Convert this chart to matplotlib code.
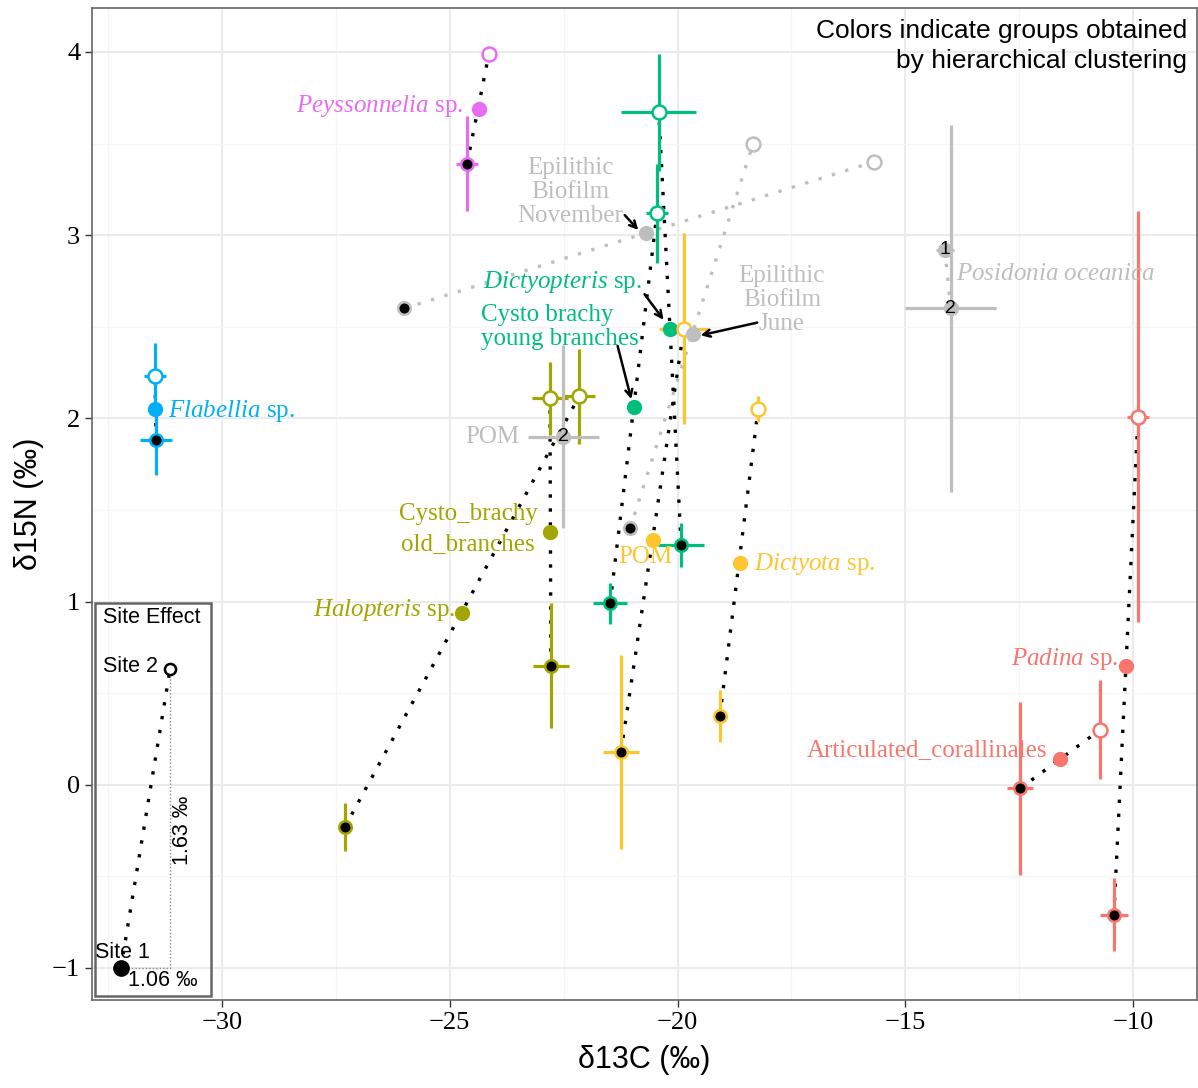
import numpy as np
import matplotlib
matplotlib.use("Agg")
import matplotlib.pyplot as plt
from matplotlib.patches import Rectangle

plt.rcParams['mathtext.fontset'] = 'custom'
plt.rcParams['mathtext.rm'] = 'Liberation Serif'
plt.rcParams['mathtext.it'] = 'Liberation Serif:italic'

# colours of the clusters
salmon = '#F8766D'
olive = '#A3A500'
green = '#00BF7D'
blue = '#00B0F6'
violet = '#E76BF3'
yellow = '#FDC52E'
grey = '#BEBEBE'

# species : site 1, site 2 and mean (d13C, d15N) with error bars
species = ['Peyssonnelia', 'Flabellia', 'Halopteris', 'Cysto_old', 'Dictyopteris',
           'Cysto_young', 'Dictyota', 'POM_y', 'Padina', 'Articulated',
           'Epi_Nov', 'Epi_June']
colors = [violet, blue, olive, olive, green, green, yellow, yellow, salmon, salmon, grey, grey]

s1_x = [-24.62, -31.45, -27.30, -22.78, -21.48, -19.92, -19.07, -21.24, -10.42, -12.48, -26.00, -21.04]
s1_y = [3.39, 1.88, -0.23, 0.65, 0.99, 1.31, 0.375, 0.18, -0.71, -0.02, 2.60, 1.40]
s1_xe = [0.25, 0.35, 0.0, 0.40, 0.37, 0.50, 0.0, 0.40, 0.30, 0.28, 0.0, 0.0]
s1_ye = [0.26, 0.19, 0.13, 0.34, 0.11, 0.12, 0.14, 0.53, 0.20, 0.47, 0.0, 0.0]

s2_x = [-24.14, -31.47, -22.16, -22.80, -20.45, -20.41, -18.23, -19.86, -9.89, -10.72, -15.69, -18.34]
s2_y = [3.99, 2.23, 2.12, 2.11, 3.12, 3.67, 2.05, 2.49, 2.01, 0.30, 3.40, 3.50]
s2_xe = [0.0, 0.25, 0.35, 0.40, 0.25, 0.82, 0.0, 0.54, 0.25, 0.0, 0.0, 0.0]
s2_ye = [0.0, 0.18, 0.26, 0.20, 0.27, 0.32, 0.07, 0.52, 1.12, 0.27, 0.0, 0.0]

m_x = [-24.36, -31.46, -24.73, -22.79, -20.95, -20.17, -18.63, -20.54, -10.15, -11.60, -20.69, -19.66]
m_y = [3.69, 2.05, 0.94, 1.38, 2.06, 2.49, 1.21, 1.335, 0.65, 0.14, 3.01, 2.46]

# numbered sites (Posidonia oceanica, POM grey)
num_x = [-14.13, -14.00, -22.51]
num_y = [2.92, 2.60, 1.90]
num_xe = [0.20, 1.00, 0.78]
num_ye = [0.0, 1.00, 0.50]
num_lab = ['1', '2', '2']

# labels
lab_text = [r'$\mathit{Peyssonnelia}$ sp.', r'$\mathit{Flabellia}$ sp.', 'Epilithic\nBiofilm\nNovember',
            r'$\mathit{Dictyopteris}$ sp.', 'Cysto brachy\nyoung branches', 'Epilithic\nBiofilm\nJune',
            r'$\mathit{Posidonia\ oceanica}$', 'POM', 'Cysto_brachy\nold_branches',
            r'$\mathit{Halopteris}$ sp.', 'POM', r'$\mathit{Dictyota}$ sp.', r'$\mathit{Padina}$ sp.',
            'Articulated_corallinales']
lab_x = [-24.71, -31.19, -22.36, -24.27, -24.31, -17.71, -13.89, -23.46, -24.60, -24.88, -21.31, -18.32, -10.33, -11.89]
lab_y = [3.705, 2.04, 3.236, 2.745, 2.50, 2.646, 2.79, 1.90, 1.396, 0.954, 1.243, 1.205, 0.687, 0.19]
lab_ha = ['right', 'left', 'center', 'left', 'left', 'center', 'left', 'right', 'center', 'right', 'left', 'left', 'right', 'right']
lab_col = [violet, blue, grey, green, green, grey, grey, grey, olive, olive, yellow, yellow, salmon, salmon]

# arrows (from text to point)
arr_x0 = [-21.20, -20.76, -21.33, -18.19]
arr_y0 = [3.121, 2.69, 2.41, 2.526]
arr_x1 = [-20.82, -20.27, -21.00, -19.55]
arr_y1 = [3.017, 2.526, 2.09, 2.45]

fig = plt.figure(figsize=(11.98, 10.88), dpi=100)
ax = fig.add_axes([92/1198, 88/1088, 1105/1198, 992/1088])

ax.set_xlim(-32.854, -8.595)
ax.set_ylim(-1.175, 4.240)
ax.set_xticks([-30, -25, -20, -15, -10])
ax.set_xticklabels(['\u221230', '\u221225', '\u221220', '\u221215', '\u221210'])
ax.set_yticks([-1, 0, 1, 2, 3, 4])
ax.set_yticklabels(['\u22121', '0', '1', '2', '3', '4'])
ax.set_xticks(np.arange(-32.5, -8, 5), minor=True)
ax.set_yticks(np.arange(-0.5, 4.2, 1), minor=True)
ax.grid(which='major', color='#EBEBEB', lw=1.5, zorder=0)
ax.grid(which='minor', color='#F5F5F5', lw=1.0, zorder=0)
ax.tick_params(which='minor', length=0)
ax.tick_params(which='major', length=5, width=1, color='#333333', labelsize=19, labelcolor='black')
for t in ax.get_xticklabels() + ax.get_yticklabels():
    t.set_family('Liberation Serif')
for s in ax.spines.values():
    s.set_color('#666666')
    s.set_linewidth(1.2)
ax.set_axisbelow(True)

ax.set_xlabel('\u03b413C (\u2030)', fontsize=22, family='Liberation Sans', labelpad=8)
ax.set_ylabel('\u03b415N (\u2030)', fontsize=22, family='Liberation Sans', labelpad=6)

# dotted links site1 -> site2
for i in range(len(species)):
    lc = grey if colors[i] == grey else 'black'
    ax.plot([s1_x[i], s2_x[i]], [s1_y[i], s2_y[i]], color=lc, lw=2.4, ls=(0, (1, 3.2)), zorder=2)
ax.plot(num_x[:2], num_y[:2], color=grey, lw=2.4, ls=(0, (1, 3.2)), zorder=2)

# error bars
for i in range(len(species)):
    c = colors[i]
    if s1_xe[i] > 0 or s1_ye[i] > 0:
        ax.errorbar(s1_x[i], s1_y[i], xerr=s1_xe[i] or None, yerr=s1_ye[i] or None,
                    fmt='none', ecolor=c, elinewidth=2.3, zorder=3)
    if s2_xe[i] > 0 or s2_ye[i] > 0:
        ax.errorbar(s2_x[i], s2_y[i], xerr=s2_xe[i] or None, yerr=s2_ye[i] or None,
                    fmt='none', ecolor=c, elinewidth=2.3, zorder=3)
for i in range(len(num_x)):
    ax.errorbar(num_x[i], num_y[i], xerr=num_xe[i] or None, yerr=num_ye[i] or None,
                fmt='none', ecolor=grey, elinewidth=2.3, zorder=3)

# points
for i in range(len(species)):
    c = colors[i]
    ax.plot(s1_x[i], s1_y[i], 'o', ms=9, mfc='black', mec=c, mew=1.8, zorder=5)
    ax.plot(s2_x[i], s2_y[i], 'o', ms=10, mfc='white', mec=c, mew=1.8, zorder=5)
    ax.plot(m_x[i], m_y[i], 'o', ms=11, mfc=c, mec=c, mew=0, zorder=5)
for i in range(len(num_x)):
    ax.plot(num_x[i], num_y[i], 'o', ms=10, mfc=grey, mec=grey, zorder=5)
    ax.text(num_x[i], num_y[i], num_lab[i], ha='center', va='center', fontsize=14,
            family='Liberation Sans', color='black', zorder=6)

# labels
for i in range(len(lab_text)):
    sp = 1.2
    if lab_text[i].startswith('Cysto_'):
        sp = 1.45
    elif '\n' in lab_text[i]:
        sp = 1.1
    ax.text(lab_x[i], lab_y[i], lab_text[i], ha=lab_ha[i], va='center', color=lab_col[i],
            fontsize=18, family='Liberation Serif', linespacing=sp, zorder=7)

for i in range(len(arr_x0)):
    ax.annotate('', xy=(arr_x1[i], arr_y1[i]), xytext=(arr_x0[i], arr_y0[i]),
                arrowprops=dict(arrowstyle='->,head_length=0.5,head_width=0.25', color='black', lw=1.8),
                zorder=8)

# inset "Site Effect"
ax.add_patch(Rectangle((-32.79, -1.153), 2.55, 2.145, fill=False, ec='#666666', lw=1.8, zorder=4))
ax.text(-31.54, 0.911, 'Site Effect', ha='center', va='center', fontsize=15.5, family='Liberation Sans')
ax.plot([-32.22, -31.14], [-1.0, 0.63], color='black', lw=2.4, ls=(0, (1, 3.2)), zorder=4)
ax.plot([-32.22, -31.14, -31.14], [-1.0, -1.0, 0.63], color='#888888', lw=1.0, ls=(0, (1, 1.5)), zorder=4)
ax.plot(-31.14, 0.63, 'o', ms=8, mfc='white', mec='black', mew=1.8, zorder=5)
ax.plot(-32.22, -1.0, 'o', ms=11, mfc='black', mec='black', zorder=5)
ax.text(-31.40, 0.648, 'Site 2', ha='right', va='center', fontsize=15.5, family='Liberation Sans')
ax.text(-32.79, -0.913, 'Site 1', ha='left', va='center', fontsize=15.5, family='Liberation Sans')
ax.text(-31.30, -1.07, '1.06 \u2030', ha='center', va='center', fontsize=15.5, family='Liberation Sans')
ax.text(-30.86, -0.247, '1.63 \u2030', ha='center', va='center', rotation=90, fontsize=15.5,
        family='Liberation Sans')

ax.text(0.991, 0.989, 'Colors indicate groups obtained\nby hierarchical clustering', transform=ax.transAxes,
        ha='right', va='top', fontsize=19, family='Liberation Sans', linespacing=1.3)

fig.savefig('out.png', dpi=100)
